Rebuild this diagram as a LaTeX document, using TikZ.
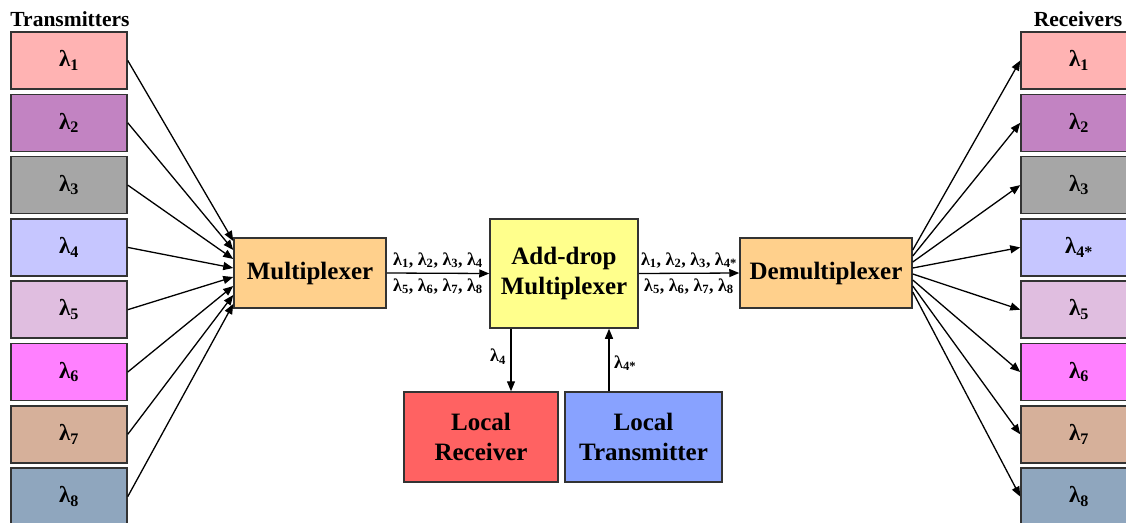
\documentclass[tikz,border=0pt]{standalone}
\usepackage{fontspec}
\setmainfont{Liberation Serif}
\usepackage{tikz}
\usetikzlibrary{arrows.meta,positioning}

\definecolor{cOne}{HTML}{FFB3B3}
\definecolor{cTwo}{HTML}{C283C2}
\definecolor{cThree}{HTML}{A6A6A6}
\definecolor{cFour}{HTML}{C6C6FF}
\definecolor{cFive}{HTML}{E0BEE0}
\definecolor{cSix}{HTML}{FF80FF}
\definecolor{cSeven}{HTML}{D6B09A}
\definecolor{cEight}{HTML}{8FA6BE}
\definecolor{cMux}{HTML}{FFD08C}
\definecolor{cAdm}{HTML}{FFFF8C}
\definecolor{cLrx}{HTML}{FF6262}
\definecolor{cLtx}{HTML}{88A2FF}
\definecolor{cEdge}{HTML}{333333}

\newcommand{\lam}[1]{λ\textsubscript{#1}}

\begin{document}
\begin{tikzpicture}[
  x=1pt,y=-1pt,
  lane/.style={draw=cEdge, line width=1.5pt, minimum width=116pt, minimum height=57pt, inner sep=0pt, font=\fontsize{23}{26}\selectfont\bfseries},
  unit/.style={draw=cEdge, line width=1.5pt, align=center, inner sep=0pt, font=\fontsize{25}{30}\selectfont\bfseries},
  title/.style={font=\fontsize{21.5}{24}\selectfont\bfseries, inner sep=0pt},
  tag/.style={font=\fontsize{18}{20}\selectfont\bfseries, inner sep=4.5pt},
  arr/.style={-{Triangle[length=10pt,width=8pt]}, line width=1.3pt}
]
\useasboundingbox (0,0) rectangle (1126,522);
\node[title] (txhead) at (70,19) {Transmitters};
\node[title] (rxhead) at (1078,19) {Receivers};
% transmitters
\node[lane, fill=cOne] (tx1) at (69,60.5) {\lam{1}};
\node[lane, fill=cTwo] (tx2) at (69,122.8) {\lam{2}};
\node[lane, fill=cThree] (tx3) at (69,185.1) {\lam{3}};
\node[lane, fill=cFour] (tx4) at (69,247.4) {\lam{4}};
\node[lane, fill=cFive] (tx5) at (69,309.7) {\lam{5}};
\node[lane, fill=cSix] (tx6) at (69,372) {\lam{6}};
\node[lane, fill=cSeven] (tx7) at (69,434.3) {\lam{7}};
\node[lane, fill=cEight] (tx8) at (69,496.6) {\lam{8}};
% receivers
\node[lane, fill=cOne] (rx1) at (1079,60.5) {\lam{1}};
\node[lane, fill=cTwo] (rx2) at (1079,122.8) {\lam{2}};
\node[lane, fill=cThree] (rx3) at (1079,185.1) {\lam{3}};
\node[lane, fill=cFour] (rx4) at (1079,247.4) {\lam{4*}};
\node[lane, fill=cFive] (rx5) at (1079,309.7) {\lam{5}};
\node[lane, fill=cSix] (rx6) at (1079,372) {\lam{6}};
\node[lane, fill=cSeven] (rx7) at (1079,434.3) {\lam{7}};
\node[lane, fill=cEight] (rx8) at (1079,496.6) {\lam{8}};
% middle units
\node[unit, fill=cMux, minimum width=152pt, minimum height=70pt] (mux) at (310,273) {Multiplexer};
\node[unit, fill=cAdm, minimum width=148pt, minimum height=109pt] (adm) at (564,273.5) {Add-drop\\Multiplexer};
\node[unit, fill=cMux, minimum width=172pt, minimum height=70pt] (demux) at (826,273) {Demultiplexer};
\node[unit, fill=cLrx, minimum width=154pt, minimum height=90pt] (lrx) at (481,437) {Local\\Receiver};
\node[unit, fill=cLtx, minimum width=157pt, minimum height=90pt] (ltx) at (643.5,437) {Local\\Transmitter};
% fan in
\draw[arr] (tx1.east) -- ([yshift=32pt]mux.west); \draw[arr] (tx2.east) -- ([yshift=23pt]mux.west);
\draw[arr] (tx3.east) -- ([yshift=14pt]mux.west); \draw[arr] (tx4.east) -- ([yshift=5pt]mux.west);
\draw[arr] (tx5.east) -- ([yshift=-4pt]mux.west); \draw[arr] (tx6.east) -- ([yshift=-13pt]mux.west);
\draw[arr] (tx7.east) -- ([yshift=-22pt]mux.west); \draw[arr] (tx8.east) -- ([yshift=-31pt]mux.west);
% fan out
\draw[arr] ([yshift=23pt]demux.east) -- (rx1.west); \draw[arr] ([yshift=17pt]demux.east) -- (rx2.west);
\draw[arr] ([yshift=11pt]demux.east) -- (rx3.west); \draw[arr] ([yshift=5pt]demux.east) -- (rx4.west);
\draw[arr] ([yshift=-1pt]demux.east) -- (rx5.west); \draw[arr] ([yshift=-7pt]demux.east) -- (rx6.west);
\draw[arr] ([yshift=-13pt]demux.east) -- (rx7.west); \draw[arr] ([yshift=-19pt]demux.east) -- (rx8.west);
% trunk
\draw[arr] (mux.east) -- (adm.west)
  node[tag, midway, above] {\lam{1}, \lam{2}, \lam{3}, \lam{4}}
  node[tag, midway, below] {\lam{5}, \lam{6}, \lam{7}, \lam{8}};
\draw[arr] (adm.east) -- (demux.west)
  node[tag, midway, above] {\lam{1}, \lam{2}, \lam{3}, \lam{4*}}
  node[tag, midway, below] {\lam{5}, \lam{6}, \lam{7}, \lam{8}};
\draw[arr] ([xshift=-53pt]adm.south) -- node[tag, left, pos=0.45] {\lam{4}} ([xshift=30pt]lrx.north);
\draw[arr] ([xshift=-34.5pt]ltx.north) -- node[tag, right, pos=0.45] {\lam{4*}} ([xshift=45pt]adm.south);
\end{tikzpicture}
\end{document}
